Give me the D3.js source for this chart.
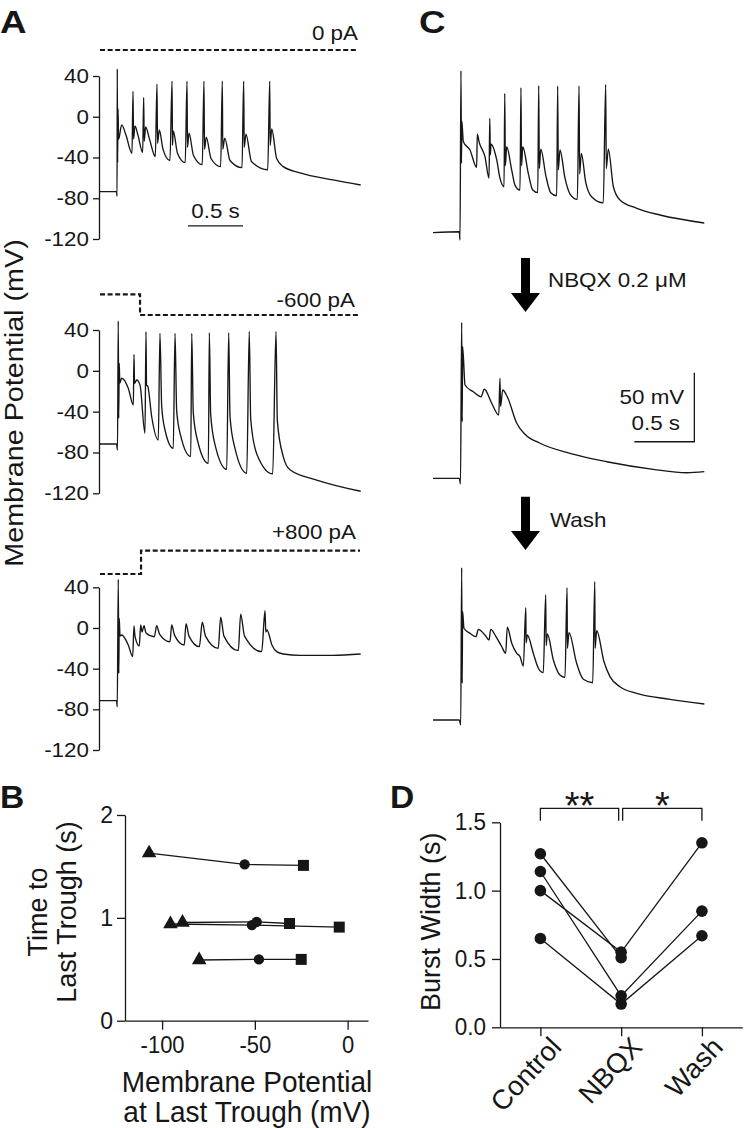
<!DOCTYPE html>
<html lang="en">
<head>
<meta charset="UTF-8">
<title>Burst firing and membrane potential</title>
<style>
  body { margin: 0; background: #fff; }
  svg { display: block; font-family: "Liberation Sans", Arial, Helvetica, sans-serif; }
</style>
</head>
<body>
<script src="https://cdn.jsdelivr.net/npm/d3@7"></script>
<script>

    // ---------- data ----------
    // panel A: membrane potential traces, [time (s), Vm (mV)]
    var traceA0 = [
        [0, -73.5], [0.150, -73.5], [0.155, -78], [0.157, 47], [0.160, -45], [0.164, 8], [0.169, -22], [0.197, -8], [0.236, -18], [0.291, -36],
        [0.300, 25], [0.305, -22], [0.318, -9], [0.345, -18], [0.388, -35],
        [0.397, 19], [0.402, -24], [0.415, -10], [0.450, -22], [0.503, -39],
        [0.518, 32], [0.523, -26], [0.539, -13], [0.573, -32], [0.636, -43],
        [0.655, 35], [0.659, -28], [0.666, -14], [0.705, -36], [0.775, -45],
        [0.791, 35], [0.795, -30], [0.809, -16], [0.850, -38], [0.930, -47],
        [0.945, 35], [0.950, -32], [0.966, -20], [1.009, -41], [1.097, -49],
        [1.112, 35], [1.116, -32], [1.134, -21], [1.182, -43], [1.291, -50],
        [1.306, 35], [1.311, -30], [1.327, -17], [1.377, -44], [1.525, -52],
        [1.543, 35], [1.547, -28], [1.561, -12], [1.606, -41], [1.666, -49], [1.818, -55], [2.118, -62], [2.370, -67]
    ];
    var traceA1 = [
        [0, -71.7], [0.150, -71.7], [0.159, -77.6], [0.166, 48.8], [0.170, -46.5], [0.175, 7.4], [0.180, -12], [0.197, -7.3], [0.257, -17], [0.303, -33.5],
        [0.309, 16.2], [0.314, -12.2], [0.334, -9], [0.364, -14], [0.409, -61.2],
        [0.418, 38.4], [0.423, -14], [0.434, -15], [0.470, -45], [0.530, -67.8],
        [0.545, 36.7], [0.561, -35], [0.591, -58], [0.666, -76],
        [0.682, 36.7], [0.697, -39], [0.732, -63], [0.825, -84],
        [0.834, 36.7], [0.848, -41], [0.886, -68], [0.985, -90.6],
        [0.994, 37.3], [1.006, -42.3], [1.045, -72], [1.152, -96.5],
        [1.170, 37.3], [1.182, -45], [1.227, -76], [1.334, -100.4],
        [1.357, 38.5], [1.370, -47.5], [1.427, -82], [1.570, -101],
        [1.600, 38.5], [1.612, -49], [1.666, -84], [1.727, -97], [1.970, -107], [2.370, -118]
    ];
    var traceA2 = [
        [0, -71.5], [0.150, -71.5], [0.157, -77.4], [0.166, 47.9], [0.171, -44.6], [0.175, 9.5], [0.182, -8], [0.197, -6.9], [0.257, -16.7], [0.297, -28.2],
        [0.309, 1.9], [0.318, -8], [0.357, -17.7],
        [0.370, 2.9], [0.382, -4], [0.400, 2.2], [0.418, -5], [0.494, -8.6],
        [0.515, 2.2], [0.541, -6], [0.636, -13.5],
        [0.652, 2.9], [0.677, -7], [0.766, -16.7],
        [0.782, 4.2], [0.809, -8], [0.903, -18.4],
        [0.930, 5.6], [0.959, -8], [1.075, -20],
        [1.097, 10.5], [1.127, -8], [1.257, -22.3],
        [1.279, 13.5], [1.314, -8], [1.470, -23.3],
        [1.500, 17], [1.507, -4], [1.518, -2], [1.564, -17], [1.606, -23.3], [1.666, -25.6], [1.818, -27], [2.118, -27], [2.370, -25.6]
    ];
    var aTicks = [40, 0, -40, -80, -120];
    var aCurrent = [0, -600, 800];               // pA
    var aCurrentLabels = ['0 pA', '-600 pA', '+800 pA'];
    var aStepOn = [null, 0.364, 0.373];          // s

    // panel C: control, NBQX 0.2 uM, wash (Vm relative to -70 mV rest)
    var traceC0 = [
        [0, -70.5], [0.219, -69.8], [0.225, -75.8], [0.233, 46.9], [0.237, -20.2], [0.240, 10.4], [0.253, -4.6], [0.308, -10.6], [0.364, -23.1],
        [0.369, 0.8], [0.386, -5.3], [0.433, -15.4], [0.467, -31],
        [0.473, 12.4], [0.478, -14], [0.483, -6.4], [0.531, -17.8], [0.558, -31], [0.592, -37.2],
        [0.598, 30.5], [0.603, -22], [0.614, -8.2], [0.656, -25.1], [0.683, -36], [0.725, -39.6],
        [0.733, 34.6], [0.738, -22], [0.748, -8.2], [0.794, -27.5], [0.831, -39.6], [0.873, -41.5],
        [0.881, 36], [0.886, -24], [0.898, -9.9], [0.942, -29.9], [0.981, -41.5], [1.031, -43.7],
        [1.039, 35.8], [1.044, -25], [1.058, -10.6], [1.100, -31], [1.142, -42.5], [1.203, -46.3],
        [1.217, 35.8], [1.222, -28], [1.236, -13], [1.272, -33.6], [1.322, -44.4], [1.419, -48.8],
        [1.439, 37], [1.444, -24], [1.461, -9.9], [1.503, -37.2], [1.558, -46.8], [1.698, -52.8], [1.892, -57.7], [2.261, -63.5]
    ];
    var traceC1 = [
        [0, -70], [0.219, -70], [0.229, -74.1], [0.239, 43], [0.243, -29], [0.247, 25.4], [0.267, -2.4], [0.336, -7.3], [0.400, -10.9],
        [0.428, -5.5], [0.489, -15.6], [0.548, -24.1],
        [0.558, 2.5], [0.563, -18], [0.581, -6], [0.619, -10.9], [0.698, -30.1], [0.767, -38.1], [0.892, -44.6], [1.142, -51.9],
        [1.448, -58], [1.836, -63.5], [2.114, -66], [2.261, -65.2]
    ];
    var traceC2 = [
        [0, -70], [0.219, -70], [0.231, -73.6], [0.239, 40.4], [0.243, -43.4], [0.247, 8.5], [0.258, -3.5], [0.308, -7.2], [0.358, -9.6],
        [0.378, -4.3], [0.433, -8.4], [0.467, -12], [0.481, -4.3], [0.525, -9.6], [0.573, -16.9], [0.606, -21.7],
        [0.619, -2.8], [0.656, -14.4], [0.698, -21.7], [0.725, -24.1], [0.753, -30.9],
        [0.773, 11.4], [0.776, -14], [0.786, -8.4], [0.836, -21.7], [0.878, -32.5], [0.919, -35.7],
        [0.939, 20.6], [0.943, -16], [0.953, -7.7], [1.003, -26.5], [1.058, -37.4], [1.100, -39.1],
        [1.117, 25.9], [1.120, -18], [1.133, -6.7], [1.197, -28.9], [1.253, -40.5], [1.331, -43],
        [1.348, 30.2], [1.351, -18], [1.364, -5.3], [1.425, -27.8], [1.475, -38.6], [1.558, -45.9], [1.698, -50.7], [1.975, -55], [2.261, -58.4]
    ];

    // panel B: time to last trough vs membrane potential at last trough, one row per cell
    var bTriV = [-107, -95.5, -89, -80];
    var bTriT = [1.63, 0.94, 0.955, 0.59];
    var bCircV = [-55.5, -51.6, -49, -47.8];
    var bCircT = [1.52, 0.93, 0.96, 0.596];
    var bSqV = [-23.8, -4.5, -31.3, -25];
    var bSqT = [1.51, 0.91, 0.945, 0.596];
    var bXTicks = [-100, -50, 0];
    var bYTicks = [0, 1, 2];

    // panel D: burst width (s), one entry per cell
    var dGroups = ['Control', 'NBQX', 'Wash'];
    var dControl = [1.27, 1.14, 1.00, 0.65];
    var dNBQX = [0.51, 0.23, 0.55, 0.17];
    var dWash = [null, 0.85, 1.35, 0.67];
    var dYTicks = [0, 0.5, 1.0, 1.5];
    var dSig = [['Control', 'NBQX', '**'], ['NBQX', 'Wash', '*']];

    // ---------- drawing ----------
    var width = 750,
        height = 1128;
    var ink = '#161616';
    var wide = 1.15;   // lettering in panels A and C is set wide

    var svg = d3.select('body').append('svg')
        .attr('width', width)
        .attr('height', height);

    function label(x, y, str, size, anchor, o) {
        o = o || {};
        return svg.append('text')
            .attr('transform', 'translate(' + x + ',' + y + ')' + (o.rot ? ' rotate(' + o.rot + ')' : '') +
                ' scale(' + (o.sx || 1) + ',' + (o.sy || 1) + ')')
            .attr('text-anchor', anchor || 'start')
            .attr('font-size', size)
            .attr('font-weight', o.bold ? 'bold' : null)
            .attr('fill', ink)
            .text(str);
    }

    function styleAxis(g, size, sx, sy) {
        g.attr('font-family', null).attr('font-size', size);
        g.selectAll('.domain, .tick line').attr('stroke', ink).attr('stroke-width', 1.3);
        g.selectAll('.tick text').attr('fill', ink);
        if (sx || sy) g.selectAll('.tick text').attr('transform', 'scale(' + (sx || 1) + ',' + (sy || 1) + ')');
    }

    var trace = function (x, y) {
        return d3.line()
            .x(d => x(d[0]))
            .y(d => y(d[1]))
            .curve(d3.curveMonotoneX);
    };

    // panel A
    var aX = d3.scaleLinear().domain([0, 2.4]).range([100, 364]);
    var aY = [
        d3.scaleLinear().domain([-120, 40]).range([239, 76]),
        d3.scaleLinear().domain([-120, 40]).range([493.3, 330]),
        d3.scaleLinear().domain([-120, 40]).range([750, 587.3])
    ];
    var aTraces = [traceA0, traceA1, traceA2];
    var cmdBase = [50, 294.3, 574];
    var cmdEnd = [2.345, 2.364, 2.364];
    var iScale = d3.scaleLinear().domain([-600, 0, 800]).range([20.7, 0, -23.3]);
    var cmdLabelY = [40, 306.7, 539.3];
    var cmdLabelX = [358, 355, 356];

    aTraces.forEach(function (tr, i) {
        var ax = svg.append('g')
            .attr('transform', 'translate(99,0)')
            .call(d3.axisLeft(aY[i]).tickValues(aTicks).tickFormat(d => String(d))
                .tickSize(6).tickSizeOuter(0).tickPadding(3));
        styleAxis(ax, 20, 1.12);

        svg.append('path')
            .datum(tr)
            .attr('fill', 'none')
            .attr('stroke', ink)
            .attr('stroke-width', 1.35)
            .attr('stroke-linejoin', 'round')
            .attr('d', trace(aX, aY[i]));

        var cmd = aStepOn[i] === null
            ? [[0, 0], [cmdEnd[i], 0]]
            : [[0, 0], [aStepOn[i], 0], [aStepOn[i], aCurrent[i]], [cmdEnd[i], aCurrent[i]]];
        svg.append('path')
            .datum(cmd)
            .attr('fill', 'none')
            .attr('stroke', ink)
            .attr('stroke-width', 2.2)
            .attr('stroke-dasharray', '5,2.6')
            .attr('d', d3.line().x(d => aX(d[0])).y(d => cmdBase[i] + iScale(d[1])));

        label(cmdLabelX[i], cmdLabelY[i], aCurrentLabels[i], 20, 'end', {sx: 1.12});
    });

    // 0.5 s scale bar under the first trace
    svg.append('line')
        .attr('x1', aX(0.8)).attr('x2', aX(1.3))
        .attr('y1', aY[0](-107.2)).attr('y2', aY[0](-107.2))
        .attr('stroke', ink).attr('stroke-width', 1.3);
    label((aX(0.8) + aX(1.3)) / 2, 218.3, '0.5 s', 20, 'middle', {sx: 1.12});

    label(22.5, 403, 'Membrane Potential (mV)', 25, 'middle', {rot: -90, sx: wide});

    // panel C
    var cX = d3.scaleLinear().domain([0, 2.4]).range([433, 721]);
    var cBase = [232, 478.3, 720];
    var cTraces = [traceC0, traceC1, traceC2];
    var cY = cBase.map(b => d3.scaleLinear().domain([-70, 0]).range([b, b - 70 * 1.38]));

    cTraces.forEach(function (tr, i) {
        svg.append('path')
            .datum(tr)
            .attr('fill', 'none')
            .attr('stroke', ink)
            .attr('stroke-width', 1.35)
            .attr('stroke-linejoin', 'round')
            .attr('d', trace(cX, cY[i]));
    });

    // 50 mV / 0.5 s scale bar beside the NBQX trace
    var barT = 2.178, barV = -43.5;
    svg.append('path')
        .attr('fill', 'none')
        .attr('stroke', ink)
        .attr('stroke-width', 1.3)
        .attr('d', 'M' + cX(barT - 0.5) + ',' + cY[1](barV) + 'H' + cX(barT) + 'V' + cY[1](barV + 50));
    label(684.3, 404, '50 mV', 20, 'end', {sx: 1.12});
    label(680, 430, '0.5 s', 20, 'end', {sx: 1.12});

    function arrow(x, y0, y1) {
        svg.append('path')
            .attr('fill', '#000')
            .attr('d', 'M' + (x - 4.5) + ',' + y0 + 'H' + (x + 4.5) + 'V' + (y1 - 19) + 'H' + (x + 14.5) +
                'L' + x + ',' + y1 + 'L' + (x - 14.5) + ',' + (y1 - 19) + 'H' + (x - 4.5) + 'Z');
    }
    arrow(525.5, 258, 312);
    arrow(525.5, 496.7, 550);
    label(548, 286.7, 'NBQX 0.2 \u03bcM', 20, 'start', {sx: 1.12});
    label(550, 526.7, 'Wash', 20, 'start', {sx: 1.12});

    // panel letters
    label(0, 33, 'A', 32, 'start', {bold: true, sx: wide});
    label(419, 33, 'C', 32, 'start', {bold: true, sx: wide});
    label(0, 808, 'B', 32, 'start', {bold: true, sx: 1.05});
    label(390, 808, 'D', 32, 'start', {bold: true, sx: 1.05});

    // panel B
    var bX = d3.scaleLinear().domain([-120, 11]).range([125, 368]);
    var bY = d3.scaleLinear().domain([0, 2]).range([1020.7, 815]);

    var bxAxis = svg.append('g')
        .attr('transform', 'translate(0,' + bY(0) + ')')
        .call(d3.axisBottom(bX).tickValues(bXTicks).tickFormat(d => String(d))
            .tickSize(9).tickSizeOuter(0).tickPadding(5));
    styleAxis(bxAxis, 22, 1, 1.08);
    var byAxis = svg.append('g')
        .attr('transform', 'translate(' + bX(-120) + ',0)')
        .call(d3.axisLeft(bY).tickValues(bYTicks).tickFormat(d => String(d))
            .tickSize(8).tickSizeOuter(0).tickPadding(4));
    styleAxis(byAxis, 23);

    var bRows = d3.range(bTriV.length).map(i => [
        {shape: d3.symbolTriangle, v: bTriV[i], t: bTriT[i], size: 92},
        {shape: d3.symbolCircle, v: bCircV[i], t: bCircT[i], size: 84},
        {shape: d3.symbolSquare, v: bSqV[i], t: bSqT[i], size: 121}
    ]);

    svg.selectAll('.b-line')
        .data(bRows)
        .enter()
        .append('path')
        .attr('class', 'b-line')
        .attr('fill', 'none')
        .attr('stroke', ink)
        .attr('stroke-width', 1.3)
        .attr('d', d3.line().x(d => bX(d.v)).y(d => bY(d.t)));

    svg.selectAll('.b-mark')
        .data(bRows.flat())
        .enter()
        .append('path')
        .attr('class', 'b-mark')
        .attr('fill', ink)
        .attr('transform', d => 'translate(' + bX(d.v) + ',' + bY(d.t) + ')')
        .attr('d', d => d3.symbol().type(d.shape).size(d.size)());

    label(47, 912, 'Time to', 27, 'middle', {rot: -90});
    label(76, 912, 'Last Trough (s)', 27, 'middle', {rot: -90});
    label(247, 1091.7, 'Membrane Potential', 28, 'middle', {sy: 1.08});
    label(247, 1122.3, 'at Last Trough (mV)', 28, 'middle', {sy: 1.08});

    // panel D
    var dX = d3.scalePoint().domain(dGroups).range([500, 742.3]).padding(0.5);
    var dY = d3.scaleLinear().domain([0, 1.5]).range([1027.3, 822.3]);

    var dxAxis = svg.append('g')
        .attr('transform', 'translate(0,' + dY(0) + ')')
        .call(d3.axisBottom(dX).tickSize(9).tickSizeOuter(0));
    styleAxis(dxAxis, 27.5);
    dxAxis.selectAll('.tick text')
        .attr('y', 0)
        .attr('dy', 0)
        .attr('text-anchor', 'end')
        .attr('transform', 'translate(22,21) rotate(-47)');

    var dyAxis = svg.append('g')
        .attr('transform', 'translate(500,0)')
        .call(d3.axisLeft(dY).tickValues(dYTicks).tickFormat(d3.format('.1f'))
            .tickSize(8).tickSizeOuter(0).tickPadding(6));
    styleAxis(dyAxis, 22.5, 1, 1.05);

    var dCells = dControl.map((c, i) => [
        {g: 'Control', v: c},
        {g: 'NBQX', v: dNBQX[i]},
        {g: 'Wash', v: dWash[i]}
    ].filter(d => d.v !== null));

    svg.selectAll('.d-line')
        .data(dCells)
        .enter()
        .append('path')
        .attr('class', 'd-line')
        .attr('fill', 'none')
        .attr('stroke', ink)
        .attr('stroke-width', 1.3)
        .attr('d', d3.line().x(d => dX(d.g)).y(d => dY(d.v)));

    svg.selectAll('.d-dot')
        .data(dCells.flat())
        .enter()
        .append('circle')
        .attr('class', 'd-dot')
        .attr('cx', d => dX(d.g))
        .attr('cy', d => dY(d.v))
        .attr('r', 5.8)
        .attr('fill', ink);

    dSig.forEach(function (s, i) {
        var x0 = dX(s[0]) + (i ? 1.5 : 0),
            x1 = dX(s[1]) - (i ? 0 : 2.5);
        svg.append('path')
            .attr('fill', 'none')
            .attr('stroke', ink)
            .attr('stroke-width', 1.3)
            .attr('d', 'M' + x0 + ',' + dY(1.511) + 'V' + dY(1.602) + 'H' + x1 + 'V' + dY(1.511));
        label((x0 + x1) / 2, 819, s[2], 38, 'middle');
    });

    label(440, 921.7, 'Burst Width (s)', 27, 'middle', {rot: -90});

</script>
</body>
</html>
